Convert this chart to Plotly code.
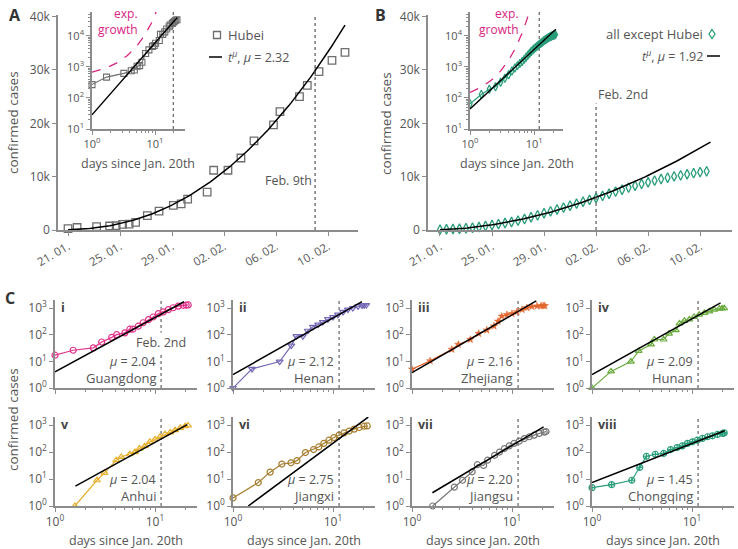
import numpy as np
import plotly.graph_objects as go

W, H = 738, 549
FONT = "Open Sans"
TXT = "#555555"
AX = "#8c8c8c"

# ---------------- data ----------------
date_ticks = [1, 5, 9, 13, 17, 21]
date_labels = ["21. 01.", "25. 01.", "29. 01.", "02. 02.", "06. 02.", "10. 02."]
k_ticks = [0, 10000, 20000, 30000, 40000]
k_labels = ["0", "10k", "20k", "30k", "40k"]

hubei_t = [1.0, 1.7, 3.2, 4.2, 4.7, 5.2, 5.7, 6.2, 7.1, 8.0, 9.1, 9.7, 10.2, 11.7, 12.2,
           13.3, 14.3, 15.3, 16.8, 17.3, 18.8, 19.4, 20.3, 21.3, 22.3]
hubei_cases = [270, 470, 620, 750, 800, 1050, 1100, 1420, 2700, 3550, 4600, 4900, 5800, 7100, 11200,
               11200, 13500, 16700, 19700, 22200, 25000, 27100, 29700, 31800, 33300]
hubei_mu, hubei_amp = 2.32, 28.6
hubei_exp_amp, hubei_exp_rate = 676, 0.47

rest_t = [1.0, 1.5, 2.0, 2.5, 3.0, 3.5, 4.0, 4.5, 5.0, 5.5, 6.0, 6.5, 7.0, 7.5, 8.0, 8.5, 9.0,
          9.5, 10.0, 10.5, 11.0, 11.5, 12.0, 12.5, 13.0, 13.5, 14.0, 14.5, 15.0, 15.5, 16.0,
          16.5, 17.0, 17.5, 18.0, 18.5, 19.0, 19.5, 20.0, 20.5, 21.0, 21.5]
rest_cases = [65, 130, 190, 230, 320, 430, 560, 740, 930, 1100, 1300, 1500, 1750, 2050, 2400,
              2750, 3150, 3500, 3850, 4200, 4550, 4950, 5300, 5650, 6000, 6400, 6800, 7200,
              7550, 7950, 8300, 8650, 8950, 9250, 9550, 9800, 10050, 10250, 10450, 10650,
              10850, 11000]
rest_mu, rest_amp = 1.92, 44.4
rest_exp_amp, rest_exp_rate = 150, 0.80

feb9_t, feb2_t = 20, 13          # on date axes
feb9_log, feb2_log_B, feb2_log_C = 19.5, 12.0, 11.5   # on log-log axes

provinces = ["Guangdong", "Henan", "Zhejiang", "Hunan", "Anhui", "Jiangxi", "Jiangsu", "Chongqing"]
roman = ["i", "ii", "iii", "iv", "v", "vi", "vii", "viii"]
prov_mu = [2.04, 2.12, 2.16, 2.09, 2.04, 2.75, 2.20, 1.45]
prov_amp = [4.0, 3.2, 3.8, 3.2, 2.1, 0.38, 1.1, 7.4]
prov_fit_from = [1.0, 1.0, 1.0, 1.0, 1.6, 1.42, 1.6, 1.0]
prov_fit_to = [19.5, 19.5, 17.5, 19.3, 21.0, 22.5, 20.7, 21.2]
prov_colors = ["#e2338b", "#7568b6", "#e2662e", "#6aab3d", "#e8b02c", "#a67e2e", "#777777", "#2a9d7b"]
prov_symbols = ["circle-open", "triangle-down-open", "star", "triangle-up-open",
                "triangle-up-open", "circle-open", "circle-open", "circle-cross-open"]

gd_t = [1, 1.52, 2.42, 2.93, 3.69, 4.14, 5.0, 5.6, 6.0, 6.8, 7.6, 8.6, 9.6, 10.8, 12.1, 13.6, 15.2, 17.1, 19.2, 20.5, 21.5]
gd_v = [17, 26, 32, 53, 79, 100, 117, 160, 160, 208, 280, 365, 460, 615, 710, 870, 1020, 1180, 1260, 1290, 1300]
hn_t = [1, 1.55, 2.93, 3.83, 4.3, 5.0, 5.6, 6.3, 7.1, 7.9, 8.9, 10, 11.2, 12.6, 14.1, 15.8, 17.8, 19.5, 20.5, 21.5]
hn_v = [1, 5.2, 9.8, 39, 88, 88, 140, 196, 240, 295, 380, 460, 560, 710, 870, 1000, 1150, 1250, 1270, 1280]
zj_t = [1, 1.52, 2.5, 2.9, 3.83, 4.64, 5.6, 6.6, 7.25, 7.9, 8.9, 10, 11.2, 12.6, 14.1, 15.8, 17.8, 19.5, 20.5, 21.3]
zj_v = [5.1, 10.4, 28, 43, 66, 110, 148, 210, 318, 490, 560, 615, 715, 870, 1020, 1130, 1180, 1200, 1210, 1215]
hu_t = [1, 1.55, 2.45, 2.93, 3.9, 4.2, 5.2, 5.9, 6.9, 7.5, 8.4, 9.4, 10.5, 11.8, 13.3, 14.9, 16.7, 18.8, 20.0, 21.0]
hu_v = [1, 4.2, 9.8, 24.5, 43, 66, 66, 110, 147, 263, 330, 370, 460, 560, 650, 750, 870, 940, 960, 980]
ah_t = [1.58, 2.63, 3.13, 4.1, 4.6, 5.6, 6.3, 7.0, 7.9, 8.9, 10, 11.2, 12.6, 14.2, 15.9, 17.9, 20, 21.4]
ah_v = [1, 9, 17, 50, 66, 83, 100, 135, 165, 240, 295, 365, 460, 535, 650, 790, 910, 970]
jx_t = [1, 1.79, 2.35, 3.08, 3.8, 4.36, 5.3, 6.4, 7.2, 8.1, 9.1, 10.2, 11.5, 12.9, 14.5, 16.3, 18.3, 20.5, 22]
jx_v = [2, 7.4, 18, 36, 40, 48, 96, 124, 155, 210, 275, 345, 425, 515, 600, 710, 815, 910, 930]
js_t = [1.61, 2.65, 3.2, 4.0, 4.5, 5.2, 5.7, 6.7, 7.5, 8.4, 9.4, 10.5, 11.8, 13.3, 14.9, 16.7, 18.7, 21, 21.9]
js_v = [1, 5, 9, 18.5, 34, 32, 50, 76, 100, 135, 170, 210, 253, 317, 370, 425, 490, 550, 575]
cq_t = [1, 1.57, 2.5, 3.0, 3.5, 4.3, 5.2, 6.1, 7.1, 8.0, 9.0, 10.1, 11.3, 12.7, 14.3, 16, 18, 20.2, 21]
cq_v = [4.8, 6.2, 9, 27, 70, 83, 89, 124, 147, 170, 210, 240, 275, 320, 370, 400, 450, 490, 515]
prov_t = [gd_t, hn_t, zj_t, hu_t, ah_t, jx_t, js_t, cq_t]
prov_v = [gd_v, hn_v, zj_v, hu_v, ah_v, jx_v, js_v, cq_v]

# ---------------- helpers ----------------
def dom_x(a, b):
    return [a / W, b / W]

def dom_y(top, bottom):
    return [1 - bottom / H, 1 - top / H]

def sup(n):
    return "10<sup>%d</sup>" % n

base_axis = dict(showline=True, linecolor=AX, linewidth=1.5, ticks="outside", tickcolor=AX,
                 ticklen=4, tickwidth=1.2, showgrid=False, zeroline=False,
                 tickfont=dict(family=FONT, size=11, color=TXT))

fig = go.Figure()
layout = {}

# ---------------- panel A / B main ----------------
def main_panel(ix, x0, x1, xr):
    xa = "xaxis%s" % ("" if ix == 1 else ix)
    ya = "yaxis%s" % ("" if ix == 1 else ix)
    layout[xa] = dict(base_axis, domain=dom_x(x0, x1), range=xr, tickvals=date_ticks,
                      ticktext=date_labels, tickangle=-30, anchor="y%s" % ("" if ix == 1 else ix),
                      tickfont=dict(family=FONT, size=11.5, color=TXT))
    layout[ya] = dict(base_axis, domain=dom_y(15, 230), range=[0, 40300], tickvals=k_ticks,
                      ticktext=k_labels, anchor="x%s" % ("" if ix == 1 else ix),
                      tickfont=dict(family=FONT, size=12, color=TXT))

def inset_panel(ix, x0, x1, xmax_log):
    layout["xaxis%d" % ix] = dict(base_axis, type="log", domain=dom_x(x0, x1), range=[0, xmax_log],
                                  tickvals=[1, 10], ticktext=[sup(0), sup(1)], anchor="y%d" % ix,
                                  minor=dict(ticks="outside", ticklen=2, tickcolor=AX,
                                             tickvals=[2, 3, 4, 5, 6, 7, 8, 9, 20, 30]))
    layout["yaxis%d" % ix] = dict(base_axis, type="log", domain=dom_y(12, 129), range=[1, 4.77],
                                  tickvals=[10, 100, 1000, 10000],
                                  ticktext=[sup(1), sup(2), sup(3), sup(4)], anchor="x%d" % ix,
                                  minor=dict(ticks="outside", ticklen=2, tickcolor=AX,
                                             tickvals=[m * 10 ** e for e in range(1, 5) for m in range(2, 10)]))

main_panel(1, 58, 358, [0.23, 23.3])
inset_panel(2, 92, 185, 1.476)
main_panel(3, 428, 732, [0.08, 23.45])
inset_panel(4, 470, 563, 1.45)

# A main
fig.add_trace(go.Scatter(x=hubei_t, y=hubei_cases, mode="markers", xaxis="x", yaxis="y",
                         marker=dict(symbol="square-open", size=7.5, color="#6e6e6e", line=dict(width=1.3)),
                         cliponaxis=False, showlegend=False))
tA = np.linspace(1.0, 22.3, 120)
fig.add_trace(go.Scatter(x=tA, y=hubei_amp * tA ** hubei_mu, mode="lines", xaxis="x", yaxis="y",
                         line=dict(color="black", width=1.5), showlegend=False))
fig.add_trace(go.Scatter(x=[feb9_t, feb9_t], y=[0, 40300], mode="lines", xaxis="x", yaxis="y",
                         line=dict(color="#555", width=1.2, dash="dot"), showlegend=False))
# A inset
tAi = np.geomspace(1.0, 22.5, 60)
tAe = np.linspace(1.0, 12.0, 80)
fig.add_trace(go.Scatter(x=tAe, y=hubei_exp_amp * np.exp(hubei_exp_rate * (tAe - 1)), mode="lines",
                         xaxis="x2", yaxis="y2", line=dict(color="#d9247f", width=1.3, dash="dash"),
                         showlegend=False))
fig.add_trace(go.Scatter(x=[feb9_log, feb9_log], y=[10, 10 ** 4.77], mode="lines", xaxis="x2", yaxis="y2",
                         line=dict(color="#555", width=1.1, dash="dot"), showlegend=False))
fig.add_trace(go.Scatter(x=hubei_t, y=hubei_cases, mode="lines+markers", xaxis="x2", yaxis="y2",
                         marker=dict(symbol="square-open", size=6, color="#6e6e6e", line=dict(width=1.1)),
                         line=dict(color="#6e6e6e", width=1.1), cliponaxis=False, showlegend=False))
fig.add_trace(go.Scatter(x=tAi, y=hubei_amp * tAi ** hubei_mu, mode="lines", xaxis="x2", yaxis="y2",
                         line=dict(color="black", width=1.4), showlegend=False))

# B main
GREEN = "#2a9d7b"
fig.add_trace(go.Scatter(x=rest_t, y=rest_cases, mode="markers", xaxis="x3", yaxis="y3",
                         marker=dict(symbol="diamond-tall-open", size=7, color=GREEN, line=dict(width=1.3)),
                         cliponaxis=False, showlegend=False))
tB = np.linspace(1.0, 21.8, 120)
fig.add_trace(go.Scatter(x=tB, y=rest_amp * tB ** rest_mu, mode="lines", xaxis="x3", yaxis="y3",
                         line=dict(color="black", width=1.5), showlegend=False))
fig.add_trace(go.Scatter(x=[feb2_t, feb2_t], y=[0, 23700], mode="lines", xaxis="x3", yaxis="y3",
                         line=dict(color="#555", width=1.2, dash="dot"), showlegend=False))
# B inset
tBi = np.geomspace(1.0, 21.8, 60)
tBe = np.linspace(1.0, 10.0, 80)
fig.add_trace(go.Scatter(x=tBe, y=rest_exp_amp * np.exp(rest_exp_rate * (tBe - 1)), mode="lines",
                         xaxis="x4", yaxis="y4", line=dict(color="#d9247f", width=1.3, dash="dash"),
                         showlegend=False))
fig.add_trace(go.Scatter(x=[feb2_log_B, feb2_log_B], y=[10, 10 ** 4.77], mode="lines", xaxis="x4", yaxis="y4",
                         line=dict(color="#555", width=1.1, dash="dot"), showlegend=False))
fig.add_trace(go.Scatter(x=rest_t, y=rest_cases, mode="lines+markers", xaxis="x4", yaxis="y4",
                         marker=dict(symbol="diamond-tall-open", size=6, color=GREEN, line=dict(width=1.2)),
                         line=dict(color=GREEN, width=1.2), cliponaxis=False, showlegend=False))
fig.add_trace(go.Scatter(x=tBi, y=rest_amp * tBi ** rest_mu, mode="lines", xaxis="x4", yaxis="y4",
                         line=dict(color="black", width=1.4), showlegend=False))

# ---------------- panel C ----------------
col_left = [55, 233, 412, 592]
col_w = 142
rows = [(300, 388), (417, 506)]
annotations = []
for k in range(8):
    r, c = divmod(k, 4)
    ix = 5 + k
    top, bot = rows[r]
    x0 = col_left[c]
    xa, ya = "x%d" % ix, "y%d" % ix
    layout["xaxis%d" % ix] = dict(base_axis, type="log", domain=dom_x(x0, x0 + col_w), range=[0, 1.42],
                                  tickvals=[1, 10], ticktext=[sup(0), sup(1)], showticklabels=(r == 1),
                                  anchor=ya, tickfont=dict(family=FONT, size=12, color=TXT),
                                  minor=dict(ticks="outside", ticklen=2.5, tickcolor=AX,
                                             tickvals=[2, 3, 4, 5, 6, 7, 8, 9, 20]))
    layout["yaxis%d" % ix] = dict(base_axis, type="log", domain=dom_y(top, bot), range=[0, 3.3],
                                  tickvals=[1, 10, 100, 1000], ticktext=[sup(0), sup(1), sup(2), sup(3)],
                                  anchor=xa, tickfont=dict(family=FONT, size=12, color=TXT))
    fig.add_trace(go.Scatter(x=[feb2_log_C, feb2_log_C], y=[1, 10 ** 3.3], mode="lines", xaxis=xa, yaxis=ya,
                             line=dict(color="#555", width=1.1, dash="dot"), showlegend=False))
    col = prov_colors[k]
    sym = prov_symbols[k]
    fig.add_trace(go.Scatter(x=prov_t[k], y=prov_v[k], mode="lines+markers", xaxis=xa, yaxis=ya,
                             marker=dict(symbol=sym, size=6 if sym != "star" else 5.5, color=col,
                                         line=dict(width=1.2 if sym != "star" else 0.5, color=col)),
                             line=dict(color=col, width=1.2), cliponaxis=False, showlegend=False))
    tf = np.geomspace(prov_fit_from[k], prov_fit_to[k], 30)
    fig.add_trace(go.Scatter(x=tf, y=prov_amp[k] * tf ** prov_mu[k], mode="lines", xaxis=xa, yaxis=ya,
                             line=dict(color="black", width=1.5), showlegend=False))
    xr = np.log10(feb2_log_C) - 0.035
    annotations.append(dict(x=xr, y=1.0, xref=xa, yref=ya, xanchor="right", yanchor="middle",
                            text="<i>μ</i> = %.2f" % prov_mu[k], showarrow=False,
                            font=dict(family=FONT, size=12.5, color=TXT)))
    annotations.append(dict(x=xr, y=0.36, xref=xa, yref=ya, xanchor="right", yanchor="middle",
                            text=provinces[k], showarrow=False,
                            font=dict(family=FONT, size=13, color=TXT)))
    annotations.append(dict(x=(x0 + 4) / W, y=1 - (top + 7) / H, xref="paper", yref="paper",
                            xanchor="left", yanchor="middle", text="<b>%s</b>" % roman[k],
                            showarrow=False, font=dict(family=FONT, size=12.5, color="#444")))
    if r == 1:
        annotations.append(dict(x=(x0 + col_w / 2) / W, y=1 - 540 / H, xref="paper", yref="paper",
                                xanchor="center", yanchor="middle", text="days since Jan. 20th",
                                showarrow=False, font=dict(family=FONT, size=12.5, color=TXT)))

annotations.append(dict(x=np.log10(feb2_log_C), y=1.72, xref="x5", yref="y5", xanchor="center",
                        yanchor="middle", text="Feb. 2nd", showarrow=False, bgcolor="white",
                        font=dict(family=FONT, size=12.5, color=TXT)))

# ---------------- texts A/B ----------------
def ptext(x, y, text, size=12.5, color=TXT, xanchor="center", angle=0, bold=False, align="center"):
    annotations.append(dict(x=x / W, y=1 - y / H, xref="paper", yref="paper", xanchor=xanchor,
                            yanchor="middle", text=("<b>%s</b>" % text) if bold else text,
                            showarrow=False, textangle=angle, align=align,
                            font=dict(family=FONT, size=size, color=color)))

ptext(15, 15, "A", size=16, color="#333", bold=True)
ptext(380, 15, "B", size=16, color="#333", bold=True)
ptext(10, 298, "C", size=16, color="#333", bold=True)
ptext(13, 123, "confirmed cases", size=13.5, angle=-90)
ptext(386, 123, "confirmed cases", size=13.5, angle=-90)
ptext(13, 420, "confirmed cases", size=13.5, angle=-90)
ptext(138, 164, "days since Jan. 20th", size=12.5)
ptext(517, 164, "days since Jan. 20th", size=12.5)
ptext(140, 22, "exp.<br>growth", size=12, color="#d9247f", xanchor="right", align="right")
ptext(521, 22, "exp.<br>growth", size=12, color="#d9247f", xanchor="right", align="right")

annotations.append(dict(x=feb9_t - 0.1, y=9200, xref="x", yref="y", xanchor="right", yanchor="middle",
                        text="Feb. 9th", showarrow=False, bgcolor="white",
                        font=dict(family=FONT, size=12.5, color=TXT)))
annotations.append(dict(x=feb2_t, y=25400, xref="x3", yref="y3", xanchor="left", yanchor="middle",
                        text="Feb. 2nd", showarrow=False,
                        font=dict(family=FONT, size=12.5, color=TXT)))

# legends
ptext(226, 35, "Hubei", size=13, xanchor="left")
ptext(226, 57, "<i>t</i><sup><i>μ</i></sup>, <i>μ</i> = %.2f" % hubei_mu, size=12.5, xanchor="left")
ptext(705, 34, "all except Hubei", size=13, xanchor="right")
ptext(705, 56, "<i>t</i><sup><i>μ</i></sup>, <i>μ</i> = %.2f" % rest_mu, size=12.5, xanchor="right")

shapes = [
    dict(type="rect", xref="paper", yref="paper", x0=213.5 / W, x1=220.5 / W, y0=1 - 38.5 / H, y1=1 - 31.5 / H,
         line=dict(color="#6e6e6e", width=1.3)),
    dict(type="line", xref="paper", yref="paper", x0=209 / W, x1=222 / W, y0=1 - 57 / H, y1=1 - 57 / H,
         line=dict(color="black", width=1.5)),
    dict(type="path", xref="paper", yref="paper",
         path="M %f,%f L %f,%f L %f,%f L %f,%f Z" % (712 / W, 1 - 29.5 / H, 715 / W, 1 - 34 / H,
                                                     712 / W, 1 - 38.5 / H, 709 / W, 1 - 34 / H),
         line=dict(color=GREEN, width=1.3)),
    dict(type="line", xref="paper", yref="paper", x0=707 / W, x1=720 / W, y0=1 - 56 / H, y1=1 - 56 / H,
         line=dict(color="black", width=1.5)),
]

fig.update_layout(width=W, height=H, margin=dict(l=0, r=0, t=0, b=0, autoexpand=False),
                  plot_bgcolor="white", paper_bgcolor="white", font=dict(family=FONT, color=TXT),
                  showlegend=False, annotations=annotations, shapes=shapes, **layout)
fig.write_html("out.html", config={"displayModeBar": False},
               post_script="document.body.style.margin='0px';document.body.style.overflow='hidden';")
